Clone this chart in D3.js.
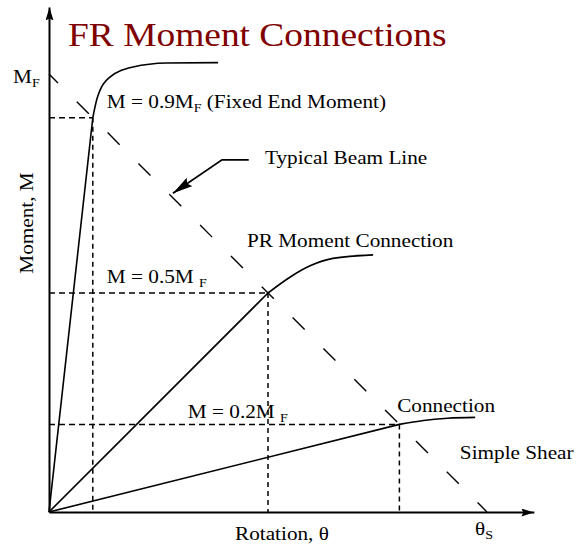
<!DOCTYPE html>
<html>
<head>
<meta charset="utf-8">
<script src="https://cdn.jsdelivr.net/npm/d3@7"></script>
<style>
  body { margin: 0; background: #fff; }
  svg text { font-family: "Liberation Serif", "Times New Roman", serif; fill: #000; }
</style>
</head>
<body>
<div id="chart"></div>
<script>
// rotation in units of theta_S, moment in units of M_F
const axisEnd = { theta: 1.107, moment: 1.153 };

const beamLine = [[0, 1], [1, 0]];

// each connection: straight elastic part up to the knee, then a smooth curve
const frCurve = [[0, 0], [0.1, 0.9], [0.110, 0.945], [0.139, 0.993], [0.192, 1.016], [0.269, 1.025], [0.386, 1.026]];
const prCurve = [[0, 0], [0.5, 0.5], [0.550, 0.536], [0.596, 0.562], [0.648, 0.579], [0.740, 0.587]];
const shearCurve = [[0, 0], [0.8, 0.2], [0.855, 0.209], [0.91, 0.214], [0.973, 0.216]];

// points where each connection curve meets the beam line
const crossings = [[0.1, 0.9], [0.5, 0.5], [0.8, 0.2]];

const pointerPath = [[0.456, 0.804], [0.395, 0.804], [0.283, 0.728]];

const labels = [
  { parts: [["M = 0.9M", 0], ["F", 1], [" (Fixed End Moment)", 0]], at: [0.132, 0.922] },
  { parts: [["Typical Beam Line", 0]], at: [0.493, 0.795] },
  { parts: [["PR Moment Connection", 0]], at: [0.452, 0.605] },
  { parts: [["M = 0.5M ", 0], ["F", 1]], at: [0.132, 0.523] },
  { parts: [["M = 0.2M ", 0], ["F", 1]], at: [0.317, 0.215] },
  { parts: [["Connection", 0]], at: [0.795, 0.228] },
  { parts: [["Simple Shear", 0]], at: [0.938, 0.121] }
];

const W = 578, H = 546;
const stretch = 1.18; // the lettering in the picture is wider than Times
const x = d3.scaleLinear().domain([0, 1]).range([49, 487]);
const y = d3.scaleLinear().domain([0, 1]).range([512, 74]);

const svg = d3.select("#chart").append("svg")
  .attr("width", W).attr("height", H);

const defs = svg.append("defs");
defs.append("marker")
  .attr("id", "axisArrow")
  .attr("viewBox", "0 0 13 8")
  .attr("refX", 13).attr("refY", 4)
  .attr("markerWidth", 13).attr("markerHeight", 8)
  .attr("markerUnits", "userSpaceOnUse")
  .attr("orient", "auto")
  .append("path").attr("d", "M0,0L13,4L0,8L2,4Z").attr("fill", "#000");
defs.append("marker")
  .attr("id", "pointArrow")
  .attr("viewBox", "0 0 20 10")
  .attr("refX", 20).attr("refY", 5)
  .attr("markerWidth", 20).attr("markerHeight", 10)
  .attr("markerUnits", "userSpaceOnUse")
  .attr("orient", "auto")
  .append("path").attr("d", "M0,0L20,5L0,10L3,5Z").attr("fill", "#000");

// axes (no ticks, just arrowed lines)
const xAxisScale = d3.scaleLinear().domain([0, axisEnd.theta]).range([x(0), x(axisEnd.theta)]);
const yAxisScale = d3.scaleLinear().domain([0, axisEnd.moment]).range([y(0), y(axisEnd.moment)]);

svg.append("g")
  .attr("transform", `translate(0,${y(0)})`)
  .call(d3.axisBottom(xAxisScale).tickValues([]).tickSizeOuter(0))
  .call(g => g.select(".domain").attr("stroke-width", 2).attr("marker-end", "url(#axisArrow)"));

svg.append("g")
  .attr("transform", `translate(${x(0)},0)`)
  .call(d3.axisLeft(yAxisScale).tickValues([]).tickSizeOuter(0))
  .call(g => g.select(".domain").attr("stroke-width", 2).attr("marker-end", "url(#axisArrow)"));

const line = d3.line().x(d => x(d[0])).y(d => y(d[1]));

// dashed guides from each crossing to both axes
const guides = svg.append("g").attr("fill", "none").attr("stroke", "#000").attr("stroke-width", 1.5);
crossings.forEach(c => {
  guides.append("path")
    .attr("d", line([[0, c[1]], c]))
    .attr("stroke-dasharray", "6,4");
  guides.append("path")
    .attr("d", line([c, [c[0], 0]]))
    .attr("stroke-dasharray", "5,4");
});

// beam line
svg.append("path")
  .attr("d", line(beamLine))
  .attr("fill", "none").attr("stroke", "#000").attr("stroke-width", 1.4)
  .attr("stroke-dasharray", "17,26.6")
  .attr("stroke-dashoffset", 4.3);

// connection curves
const smooth = d3.line().x(d => x(d[0])).y(d => y(d[1])).curve(d3.curveMonotoneX);
[frCurve, prCurve, shearCurve].forEach(c => {
  const straight = line(c.slice(0, 2));
  const bend = smooth(c.slice(1)).replace(/^M/, "L");
  svg.append("path")
    .attr("d", straight + bend)
    .attr("fill", "none").attr("stroke", "#000").attr("stroke-width", 1.6)
    .attr("stroke-linejoin", "round");
});

// pointer to beam line
svg.append("path")
  .attr("d", line(pointerPath))
  .attr("fill", "none").attr("stroke", "#000").attr("stroke-width", 1.8)
  .attr("marker-end", "url(#pointArrow)");

function addText(px, py, parts, size, rotate) {
  const t = svg.append("text")
    .attr("transform", `translate(${px},${py})${rotate ? " rotate(" + rotate + ")" : ""} scale(${stretch},1)`)
    .attr("font-size", size);
  parts.forEach((p, i) => {
    const s = t.append("tspan").text(p[0]);
    if (p[1]) s.attr("font-size", size * 0.66).attr("dy", 4);
    else if (i > 0) s.attr("dy", -4);
  });
  return t;
}

// annotations
labels.forEach(l => addText(x(l.at[0]), y(l.at[1]), l.parts, 18));

// title
svg.append("text")
  .attr("transform", "translate(68,46) scale(1.135,1)")
  .attr("font-size", 33)
  .style("fill", "#800000")
  .text("FR Moment Connections");

// axis labels
addText(33, 223, [["Moment, M", 0]], 18, -90).attr("text-anchor", "middle");
addText(235, 540, [["Rotation, θ", 0]], 18);
addText(13, y(1) + 9, [["M", 0], ["F", 1]], 18);
addText(x(1) - 12, 535, [["θ", 0], ["S", 1]], 18);
</script>
</body>
</html>
